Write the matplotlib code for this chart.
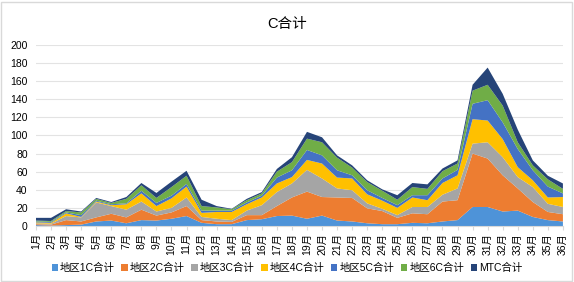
import numpy as np
import matplotlib
matplotlib.use("Agg")
import matplotlib.pyplot as plt
from matplotlib.patches import Rectangle

plt.rcParams['font.family'] = ['Liberation Sans', 'Noto Sans CJK SC', 'DejaVu Sans']

months = [str(i) + "月" for i in range(1, 37)]

area1 = [1, 0.5, 1, 1.5, 5, 6, 3, 6.5, 6, 8, 11, 3.5, 2, 2, 6.5, 7.5, 11, 11.5,
         8, 11.5, 6, 5, 3, 2, 2, 3.5, 3, 5, 6.5, 21, 21, 16, 17, 10, 6.5, 5]
area2 = [1, 1, 5.5, 3.5, 4.5, 7.5, 6.5, 11.5, 5.5, 7, 11, 3, 3, 2.5, 5.5, 4.5, 11, 20,
         30, 20.5, 25.5, 26, 16.5, 14.5, 7, 10.5, 10, 22, 22, 59, 53.5, 40, 24.5, 16.5, 9, 8]
area3 = [1, 1, 4.5, 4.5, 16.5, 8.5, 8.5, 9, 4.5, 5, 9.5, 3.5, 3, 2, 5, 11, 15.5, 15.5,
         24, 20.5, 10, 8.5, 5.5, 2.5, 3, 7, 8, 7.5, 13, 11, 18, 20, 12.5, 16.5, 9, 8]
area4 = [1, 1, 3, 0.5, 1, 1, 6, 9, 6, 10.5, 12, 4.5, 7.5, 9, 7, 8.5, 9.5, 7,
         11, 16.5, 12, 13, 10, 9, 8, 10.5, 7.5, 13, 14.5, 27, 24, 20, 11, 7.5, 7, 11]
area5 = [1, 1, 1, 2, 1, 1, 1, 3, 3.5, 3, 3, 2.5, 1.5, 1.5, 2, 2, 6.5, 7.5,
         11, 9, 8, 3.5, 4.5, 3, 3, 2.5, 5.5, 5, 6, 17, 22.5, 18.5, 20, 11, 12, 4]
area6 = [1, 1, 1.5, 3, 2, 1.5, 5, 6, 5.5, 9.5, 9, 5, 3.5, 1.5, 2.5, 2.5, 6.5, 9,
         12.5, 14.5, 14, 8.5, 9, 8, 6, 9, 7, 8, 7, 14.5, 17, 18.5, 7.5, 5.5, 8, 5]
mtc = [3, 3.5, 2, 1, 1, 1, 2, 2.5, 5.5, 6, 5.5, 7, 1.5, 0.5, 1.5, 1.5, 3, 5.5,
       7.5, 5.5, 2.5, 2.5, 2, 1.5, 5, 4.5, 5, 3, 3.5, 6.5, 19, 13, 14, 5.5, 4, 6]

labels = ["地区1C合计", "地区2C合计", "地区3C合计", "地区4C合计", "地区5C合计", "地区6C合计", "MTC合计"]
colors = ["#4E93D8", "#ED7D31", "#A5A5A5", "#FFC000", "#4472C4", "#70AD47", "#264478"]

fig = plt.figure(figsize=(5.74, 2.82), dpi=100)
fig.patches.append(Rectangle((0.002, 0.004), 0.994, 0.99, transform=fig.transFigure,
                             fill=False, edgecolor="#D9D9D9", linewidth=1))
ax = fig.add_axes([0.0627, 0.1986, 0.918, 0.642])

x = np.arange(len(months))
ax.stackplot(x, area1, area2, area3, area4, area5, area6, mtc,
             labels=labels, colors=colors, linewidth=0)

ax.set_xlim(0, len(months) - 1)
ax.set_ylim(0, 200)
ax.set_yticks(range(0, 201, 20))
ax.set_xticks(x)
ax.set_xticklabels(months, rotation=90, fontsize=7.5)
ax.tick_params(axis='y', labelsize=7.5, length=0, pad=6)
ax.tick_params(axis='x', length=3, color="#D9D9D9", pad=2)
ax.grid(axis='y', color="#E3E3E3", linewidth=0.8)
ax.set_axisbelow(True)
for side in ["top", "right", "left"]:
    ax.spines[side].set_visible(False)
ax.spines["bottom"].set_color("#D9D9D9")

fig.text(0.5, 0.915, "C合计", ha="center", va="center", fontsize=10.5)

handles, labs = ax.get_legend_handles_labels()
fig.legend(handles, labs, loc="center", bbox_to_anchor=(0.5, 0.05), ncol=7,
           frameon=False, fontsize=7.5, handlelength=0.6, handleheight=0.6,
           handletextpad=0.2, columnspacing=0.65)

fig.savefig("out.png", dpi=100)
